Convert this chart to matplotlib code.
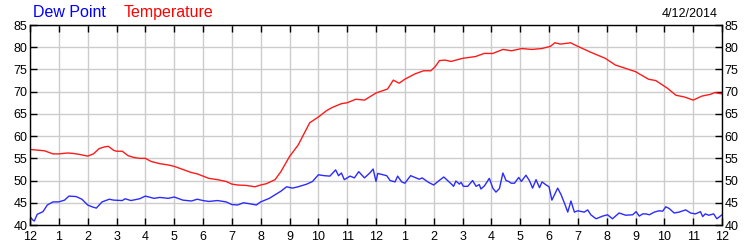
import matplotlib
matplotlib.use("Agg")
import matplotlib.pyplot as plt

plt.rcParams['font.family'] = ['Liberation Sans', 'DejaVu Sans']

# Time in hours since midnight
temp_hours = [0, 0.5, 0.8, 1.0, 1.3, 1.5, 1.7, 2.0, 2.2, 2.4, 2.6, 2.72, 2.9, 3.0, 3.2, 3.4,
              3.6, 3.8, 4.0, 4.2, 4.5, 4.8, 5.0, 5.3, 5.6, 5.8, 6.0, 6.2, 6.5, 6.8, 7.0,
              7.2, 7.5, 7.8, 8.0, 8.2, 8.5, 8.7, 9.0, 9.3, 9.5, 9.7, 10.0, 10.3, 10.5,
              10.8, 11.0, 11.3, 11.6, 12.0, 12.4, 12.6, 12.8, 13.0, 13.35, 13.65, 13.9,
              14.05, 14.2, 14.4, 14.6, 15.0, 15.45, 15.75, 16.05, 16.4, 16.7, 17.05,
              17.4, 17.75, 18.05, 18.2, 18.4, 18.75, 18.9, 19.4, 19.95, 20.3, 21.0,
              21.45, 21.7, 22.1, 22.4, 22.7, 23.0, 23.3, 23.6, 23.75, 24.0]
temperature = [57.0, 56.7, 56.0, 56.0, 56.2, 56.1, 55.9, 55.5, 56.0, 57.2, 57.6, 57.7, 56.8,
               56.6, 56.6, 55.6, 55.2, 55.0, 55.0, 54.3, 53.8, 53.5, 53.2, 52.5, 51.8,
               51.5, 51.0, 50.5, 50.2, 49.8, 49.2, 49.0, 48.9, 48.6, 49.0, 49.3, 50.2,
               52.0, 55.4, 58.0, 60.5, 63.0, 64.3, 65.8, 66.5, 67.3, 67.5, 68.3, 68.1,
               69.7, 70.6, 72.6, 71.9, 72.8, 74.0, 74.7, 74.7, 75.6, 77.0, 77.1, 76.8,
               77.5, 77.9, 78.6, 78.6, 79.5, 79.2, 79.7, 79.5, 79.7, 80.2, 81.0, 80.7,
               81.0, 80.5, 79.0, 77.5, 76.0, 74.5, 72.8, 72.5, 70.8, 69.2, 68.8, 68.1,
               69.0, 69.4, 69.8, 69.5]

dew_hours = [0, 0.1, 0.15, 0.25, 0.45, 0.6, 0.8, 1.0, 1.2, 1.35, 1.6, 1.8, 2.0, 2.15, 2.3,
             2.5, 2.75, 2.9, 3.2, 3.3, 3.5, 3.8, 4.0, 4.3, 4.5, 4.8, 5.0, 5.3, 5.6, 5.8,
             6.0, 6.2, 6.5, 6.8, 7.0, 7.2, 7.4, 7.6, 7.85, 8.0, 8.3, 8.5, 8.7, 8.9, 9.1,
             9.3, 9.6, 9.8, 10.0, 10.2, 10.4, 10.6, 10.7, 10.8, 10.9, 11.1, 11.25, 11.4,
             11.6, 11.8, 11.9, 12.0, 12.06, 12.37, 12.49, 12.66, 12.75, 12.89, 13.0,
             13.2, 13.5, 13.6, 13.82, 14.0, 14.17, 14.35, 14.6, 14.69, 14.77, 14.89,
             14.95, 15.03, 15.18, 15.35, 15.47, 15.58, 15.64, 15.76, 15.93, 16.05,
             16.16, 16.28, 16.4, 16.51, 16.6, 16.69, 16.8, 16.95, 17.04, 17.2, 17.32,
             17.43, 17.55, 17.67, 17.76, 17.88, 18.0, 18.1, 18.3, 18.42, 18.53, 18.65,
             18.76, 18.88, 19.0, 19.22, 19.34, 19.45, 19.63, 19.86, 20.03, 20.2, 20.43,
             20.66, 20.9, 21.02, 21.13, 21.25, 21.36, 21.48, 21.65, 21.82, 21.94, 22.05,
             22.17, 22.34, 22.51, 22.74, 22.91, 23.08, 23.25, 23.33, 23.42, 23.54,
             23.71, 23.82, 24.0]
dew_point = [41.9, 41.1, 40.9, 42.4, 43.0, 44.5, 45.2, 45.2, 45.6, 46.5, 46.4, 45.8, 44.5,
             44.1, 43.8, 45.2, 45.8, 45.6, 45.5, 45.9, 45.5, 45.9, 46.5, 46.0, 46.2,
             46.0, 46.3, 45.6, 45.4, 45.8, 45.5, 45.3, 45.5, 45.2, 44.6, 44.5, 45.0,
             44.8, 44.5, 45.2, 46.0, 46.8, 47.6, 48.6, 48.3, 48.6, 49.2, 49.8, 51.3,
             51.1, 51.0, 52.4, 51.1, 51.7, 50.2, 51.0, 50.6, 52.0, 50.6, 51.8, 52.6,
             49.8, 51.6, 51.1, 50.0, 49.7, 51.0, 49.7, 49.4, 51.1, 50.3, 50.6, 49.6,
             49.0, 49.9, 50.8, 49.3, 48.7, 49.9, 49.2, 49.6, 48.7, 48.7, 50.0, 48.7,
             49.1, 48.1, 48.8, 50.5, 48.3, 47.4, 48.2, 51.7, 50.0, 49.8, 49.4, 49.4,
             50.7, 49.8, 51.2, 50.0, 48.3, 50.2, 48.4, 49.7, 49.1, 48.6, 45.6, 48.3,
             46.8, 45.0, 42.9, 45.4, 42.9, 43.2, 42.9, 43.4, 42.3, 41.4, 42.0, 42.3,
             41.4, 42.7, 42.2, 42.3, 43.0, 42.0, 42.5, 42.5, 42.3, 42.9, 43.2, 43.1,
             44.1, 43.7, 42.7, 42.9, 43.4, 42.7, 42.5, 43.0, 41.9, 42.5, 42.2, 42.5,
             41.4, 42.3]

hour_ticks = list(range(0, 25))
hour_labels = ['12', '1', '2', '3', '4', '5', '6', '7', '8', '9', '10', '11',
               '12', '1', '2', '3', '4', '5', '6', '7', '8', '9', '10', '11', '12']
y_ticks = [40, 45, 50, 55, 60, 65, 70, 75, 80, 85]
date_label = '4/12/2014'

fig = plt.figure(figsize=(7.5, 2.5), dpi=100)
ax = fig.add_axes([0.04, 0.1, 0.9227, 0.8])

ax.plot(dew_hours, dew_point, color='#2b2bff', lw=1.0)
ax.plot(temp_hours, temperature, color='#ff1a1a', lw=1.0)

ax.set_xlim(0, 24)
ax.set_ylim(40, 85)
ax.set_xticks(hour_ticks)
ax.set_xticklabels(hour_labels)
ax.set_yticks(y_ticks)
ax.grid(True, color='#cccccc', lw=1.0)
ax.set_axisbelow(True)
ax.tick_params(axis='both', which='both', direction='in', length=5, width=1,
               labelsize=9, top=True, right=True, labelright=True, pad=2,
               colors='black')
ax.tick_params(axis='x', pad=4)
for s in ax.spines.values():
    s.set_linewidth(1.0)
    s.set_color('black')

fig.text(33 / 750, 1 - 17 / 250, 'Dew Point', color='blue', fontsize=11.5,
         ha='left', va='baseline')
fig.text(124 / 750, 1 - 17 / 250, 'Temperature', color='red', fontsize=11.5,
         ha='left', va='baseline')
fig.text(718 / 750, 1 - 17 / 250, date_label, color='black', fontsize=9,
         ha='right', va='baseline')

fig.savefig('out.png', dpi=100)
